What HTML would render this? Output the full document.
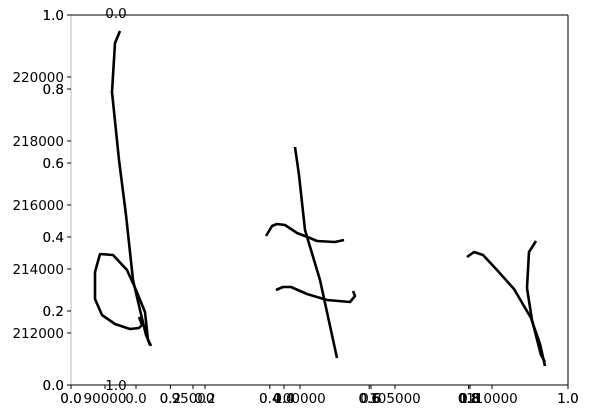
<!DOCTYPE html>
<html><head><meta charset="utf-8"><style>
body{margin:0;background:#fff;}
svg{display:block;font-family:"DejaVu Sans","Liberation Sans",sans-serif;font-size:13.5px;}
</style></head><body>
<svg id="chart" width="589" height="418">
<rect x="0" y="0" width="589" height="418" fill="#fff"/>
<g id="marks"></g>
<g id="axes"></g>
</svg>
<script>
const seriesA1x=[90781,90521,90365,90729,91094,91458,91823,92135,92396];
const seriesA1y=[221438,221063,219531,217406,215688,213656,212719,211938,211594];
const seriesA2x=[91771,91927,91771,91302,90521,89844,89479,89479,89740,90417,91146,91615,92083,92240,92344];
const seriesA2y=[212500,212250,212156,212125,212281,212563,213063,213906,214469,214438,213969,213344,212656,211781,211625];
const seriesB1x=[99896,100104,100417,101198,102083];
const seriesB1y=[217813,216938,215219,213656,211219];
const seriesB2x=[98385,98698,98958,99375,100000,100677,101042,101979,102448];
const seriesB2y=[215031,215344,215406,215375,215125,214969,214875,214844,214906];
const seriesB3x=[98906,99271,99688,100521,101563,102760,103021,102917];
const seriesB3y=[213344,213438,213438,213219,213031,212969,213156,213313];
const seriesC1x=[108854,109219,109688,110417,111302,112188,112656,112917];
const seriesC1y=[214375,214531,214438,213969,213375,212469,211656,210969];
const seriesC2x=[112448,112083,111979,112240,112708,112917];
const seriesC2y=[214875,214531,213406,212406,211313,211094];
const yTicksBig=[212000,214000,216000,218000,220000];
const fracTicks=[0,0.2,0.4,0.6,0.8,1.0];

const L=71,R=568,T=15,B=385;
function xs(v){return 105+(v-90000)*0.0192;}
function ys(v){return 333-(v-212000)*0.032;}
const NS="http://www.w3.org/2000/svg";
const marks=document.getElementById('marks');
const axes=document.getElementById('axes');
const all=[["line-a1",seriesA1x,seriesA1y],["line-a2",seriesA2x,seriesA2y],["line-b1",seriesB1x,seriesB1y],["line-b2",seriesB2x,seriesB2y],["line-b3",seriesB3x,seriesB3y],["line-c1",seriesC1x,seriesC1y],["line-c2",seriesC2x,seriesC2y]];
all.forEach(([nm,xa,ya])=>{
  const p=document.createElementNS(NS,'polyline');
  p.setAttribute('points',xa.map((x,i)=>xs(x).toFixed(1)+','+ys(ya[i]).toFixed(1)).join(' '));
  p.setAttribute('fill','none');p.setAttribute('stroke','#000');p.setAttribute('stroke-width','2.6');
  p.setAttribute('stroke-linejoin','round');
  
  
  marks.appendChild(p);
});
function line(x1,y1,x2,y2,c,nm){const l=document.createElementNS(NS,'line');l.setAttribute('x1',x1);l.setAttribute('y1',y1);l.setAttribute('x2',x2);l.setAttribute('y2',y2);l.setAttribute('stroke',c);l.setAttribute('stroke-width','1');


axes.appendChild(l);}
function text(x,y,s,anchor,nm){const t=document.createElementNS(NS,'text');t.setAttribute('x',x);t.setAttribute('y',y);t.setAttribute('text-anchor',anchor);t.textContent=s;


axes.appendChild(t);}
line(L,T,L,B,'#bbb','left-spine');
line(L,T,R,T,'#000','top-spine');
line(R,T,R,B,'#000','right-spine');
line(L,B,R,B,'#000','bottom-spine');
fracTicks.forEach(f=>{
  const y=B-f*(B-T), x=L+f*(R-L);
  line(L-4,y,L,y,'#000','y-tick');
  text(L-7,y+5,f.toFixed(1),'end','y-tick-label');
  text(L-7,y+5,f.toFixed(1),'end','y-tick-label');
  line(x,B,x,B+4,'#000','x-tick');
  text(x,B+18,f.toFixed(1),'middle','x-tick-label');
  text(x,B+18,f.toFixed(1),'middle','x-tick-label');
});
yTicksBig.forEach(v=>{const y=ys(v);line(L-4,y,L,y,'#000','y-tick-big');text(L-7,y+5,String(v),'end','y-tick-label-big');});
[[136,'0.0'],[205,'0.2'],[284,'0.0'],[284,'0.4'],[371,'0.6'],[470,'0.8'],[470,'1.0']].forEach(([x,s])=>{line(x,B,x,B+4,'#000','x-tick-extra');text(x,B+18,s,'middle','x-tick-label-extra');});
[[105,'90000'],[193,'95000'],[300,'100000'],[395,'105000'],[492,'110000']].forEach(([x,s])=>{line(x,B,x,B+4,'#000','x-tick-big');text(x,B+18,s,'middle','x-tick-label-big');});
text(116,B+5,'1.0','middle','inset-label');
text(116,T+3,'0.0','middle','inset-label-top');
</script>
</body></html>
